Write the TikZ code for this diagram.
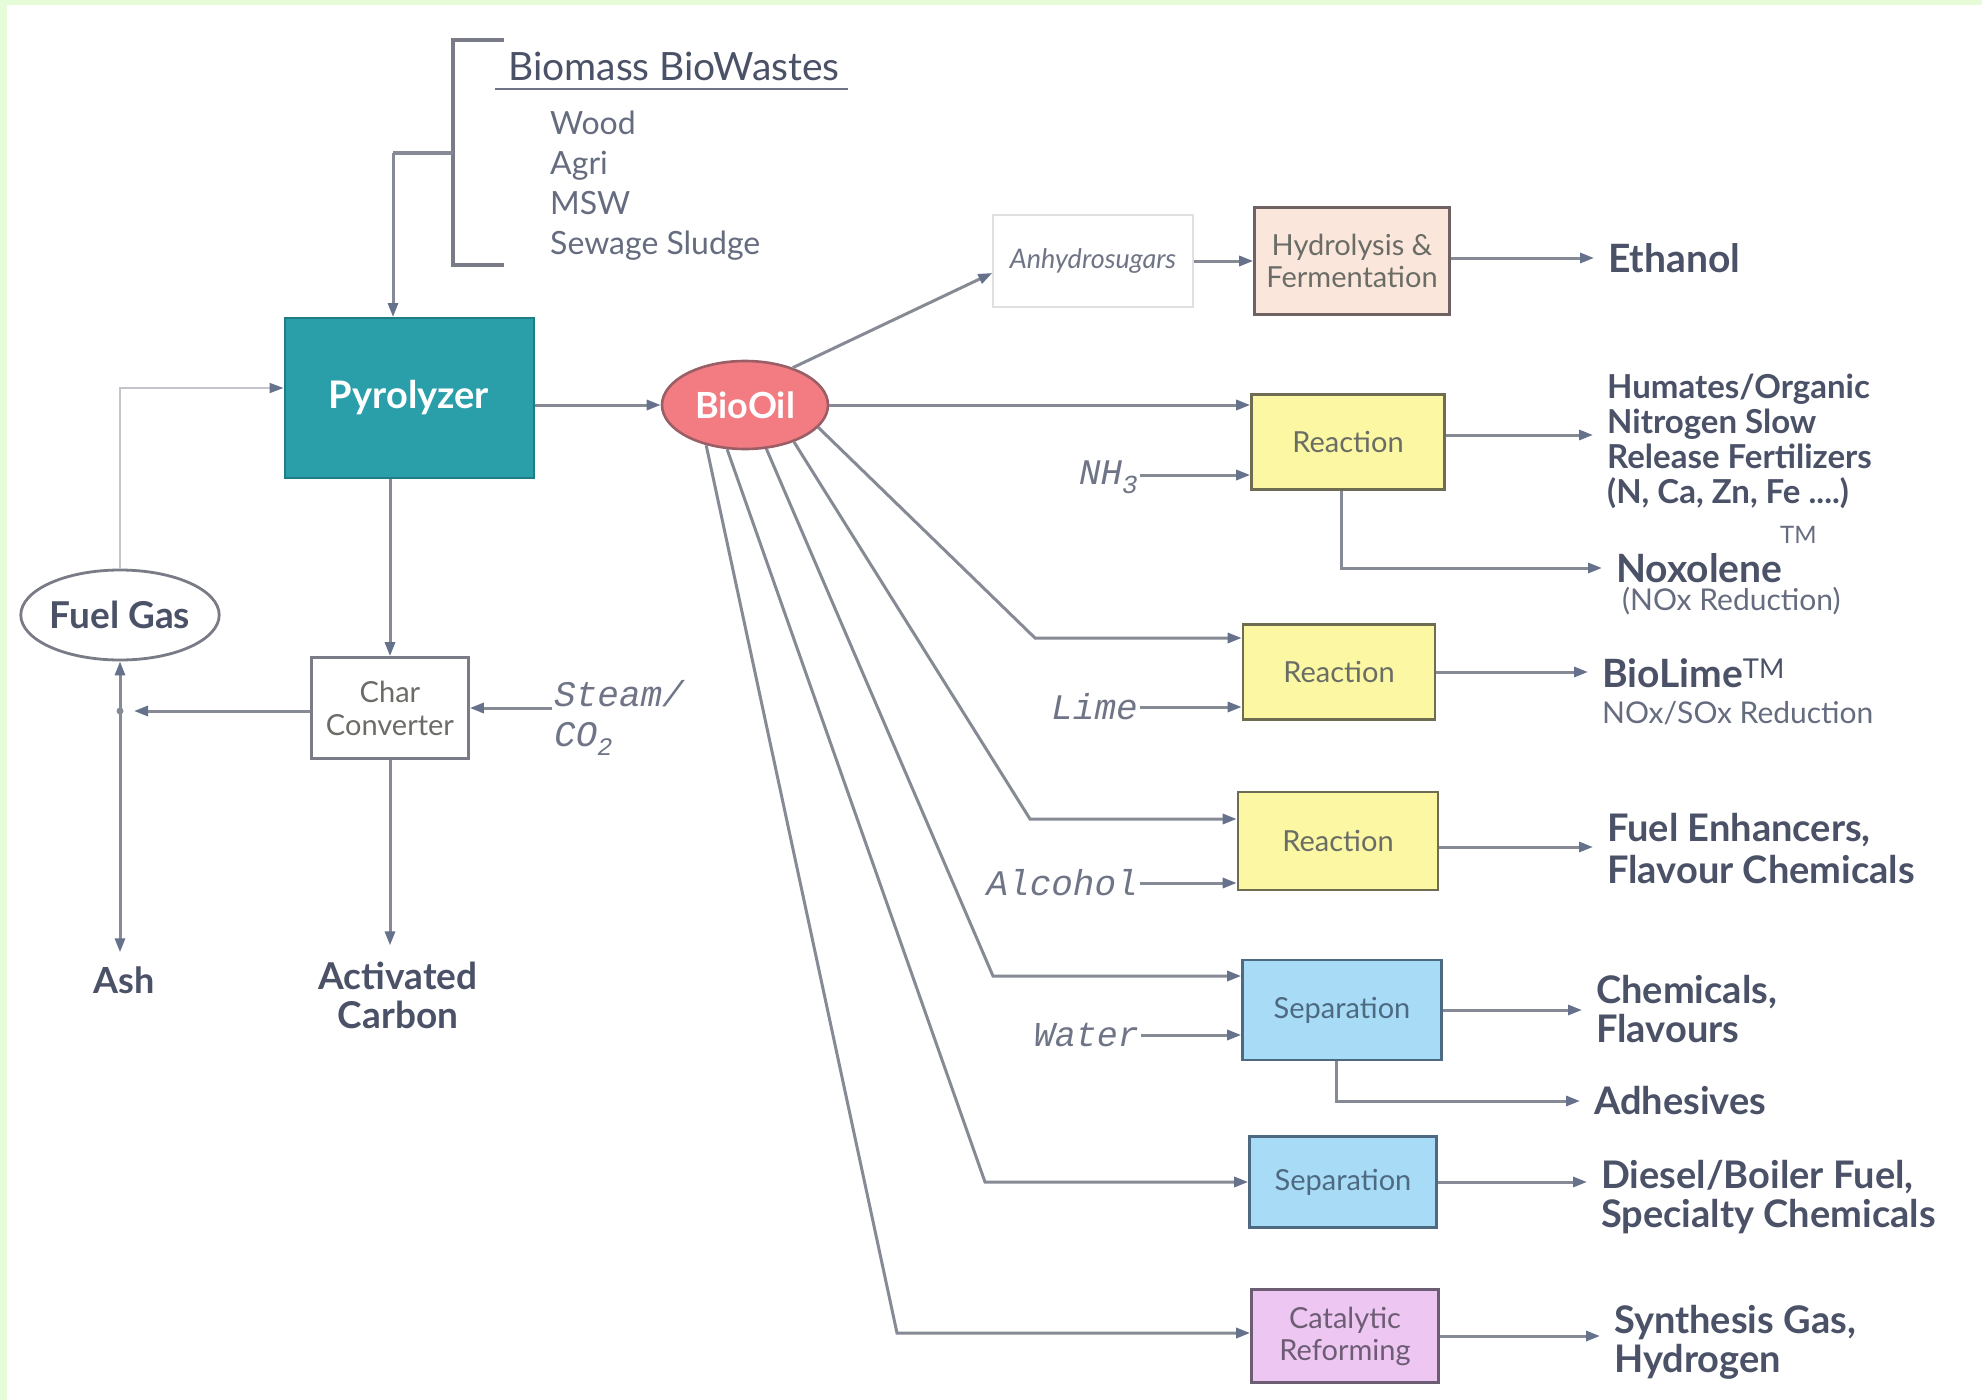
\documentclass[tikz,border=0pt]{standalone}
\usepackage{fontspec}
\setmainfont{Lato}
\newfontfamily\monoit{Liberation Mono}
\usetikzlibrary{shapes.geometric,arrows.meta,calc}
\definecolor{lnc}{HTML}{868A95}
\definecolor{tipc}{HTML}{66718C}
\definecolor{txt}{HTML}{4B5268}
\definecolor{bgg}{HTML}{E6FCD9}
\definecolor{pyrof}{HTML}{2A9FAA}
\definecolor{pyrob}{HTML}{1F7D88}
\definecolor{biof}{HTML}{F27C82}
\definecolor{biob}{HTML}{9A5F66}
\definecolor{yelf}{HTML}{FBF7A2}
\definecolor{yelb}{HTML}{6E6C52}
\definecolor{bluf}{HTML}{A8DCF6}
\definecolor{blub}{HTML}{4D6A82}
\definecolor{vilf}{HTML}{EEC6F2}
\definecolor{vilb}{HTML}{6D5D74}
\definecolor{pchf}{HTML}{FBE6DC}
\definecolor{pchb}{HTML}{6E6262}
\definecolor{boxtxt}{HTML}{6A6D66}
\newcommand\fsz[2]{\fontsize{#1pt}{#2pt}\selectfont}
\tikzset{
  ln/.style={draw=lnc, line width=3pt},
  arr/.style={ln, -{Triangle[length=14pt,width=10pt,color=tipc]}},
  thinarr/.style={draw=lnc!50, line width=1.8pt, -{Triangle[length=14pt,width=10pt,color=tipc]}},
  procbox/.style={draw=#1, line width=2.6pt, inner sep=1pt, align=center, font=\fsz{29}{32}},
  prod/.style={anchor=west, inner sep=2pt, text=txt, font=\fsz{38}{39}\bfseries, align=left},
  prodsm/.style={anchor=west, inner sep=2pt, text=txt!85, font=\fsz{30}{32}},
  inlab/.style={anchor=east, inner sep=2pt, text=txt!80, font=\fsz{36}{39}\monoit\itshape, align=left},
}
\begin{document}
\begin{tikzpicture}[x=1pt,y=-1pt]
\useasboundingbox (0,0) rectangle (1982,1400);
\fill[bgg] (0,0) rectangle (1982,1400);
\fill[white] (7,5) rectangle (1982,1400);

% Biomass bracket
\node[anchor=west, inner sep=0pt, text=txt, font=\fsz{39}{44}] (bm) at (508,66) {Biomass BioWastes};
\draw[draw=txt!80, line width=2.4pt] (495,89) -- (848,89);
\node[anchor=north west, inner sep=0pt, text=txt!85, font=\fsz{32}{40}, align=left] (feeds) at (550,111) {Wood\\Agri\\MSW\\Sewage Sludge};
\draw[draw=lnc!90!black, line width=3.4pt] (504,40) -- (453,40) -- (453,265) -- (504,265);
\coordinate (brk) at (453,153);
\coordinate (brk2) at (393,153);

% main nodes
\node[draw=pyrob, fill=pyrof, line width=2pt, minimum width=249pt, minimum height=160pt, text=white, font=\fsz{38}{44}\bfseries] (pyro) at (409,398) {Pyrolyzer};
\node[ellipse, draw=biob, fill=biof, line width=2.6pt, minimum width=166pt, minimum height=88pt, inner sep=0pt, text=white, font=\fsz{36}{40}\bfseries] (bio) at (745,405) {BioOil};
\node[ellipse, draw=lnc!90!black, fill=white, line width=2.8pt, minimum width=190pt, minimum height=90pt, inner sep=0pt, text=txt, font=\fsz{37}{40}\bfseries] (fuel) at (120,615) {Fuel Gas};
\node[procbox=lnc!90!black, minimum width=157pt, minimum height=101pt, text=boxtxt, font=\fsz{29}{33}] (char) at (390,708) {Char\\Converter};
\node[anchor=west, inner sep=2pt, text=txt!80, font=\fsz{36}{40}\monoit\itshape, align=left] (steam) at (552,718) {Steam/\\CO\textsubscript{2}};
\node[inner sep=2pt, text=txt, font=\fsz{36}{40}\bfseries] (ash) at (124,980) {Ash};
\node[inner sep=2pt, text=txt, font=\fsz{37}{39}\bfseries, align=center] (act) at (398,995) {Activated\\Carbon};
\coordinate (J) at (120,711);

% process boxes
\node[draw=black!12, line width=1.4pt, fill=white, minimum width=200pt, minimum height=92pt, inner sep=2pt, text=txt!80, font=\fsz{27}{30}\itshape] (anhy) at (1093,261) {Anhydrosugars};
\node[procbox=pchb, fill=pchf, minimum width=195pt, minimum height=107pt, text=boxtxt] (hydro) at (1352,261) {Hydrolysis \&\\Fermentation};
\node[procbox=yelb, fill=yelf, minimum width=193pt, minimum height=95pt, text=boxtxt] (r1) at (1348,442) {Reaction};
\node[procbox=yelb, fill=yelf, minimum width=192pt, minimum height=95pt, text=boxtxt] (r2) at (1339,672) {Reaction};
\node[procbox=yelb, fill=yelf, minimum width=200pt, minimum height=98pt, text=boxtxt] (r3) at (1338,841) {Reaction};
\node[procbox=blub, fill=bluf, minimum width=199pt, minimum height=100pt, text=blub] (s1) at (1342,1010) {Separation};
\node[procbox=blub, fill=bluf, minimum width=187pt, minimum height=91pt, text=blub] (s2) at (1343,1182) {Separation};
\node[procbox=vilb, fill=vilf, minimum width=187pt, minimum height=93pt, text=vilb] (cat) at (1345,1336) {Catalytic\\Reforming};

% input labels
\node[inlab] (nh3) at (1140,477) {NH\raisebox{-9pt}{\fsz{26}{28}3}};
\node[inlab] (lime) at (1140,707) {Lime};
\node[inlab] (alc) at (1140,883) {Alcohol};
\node[inlab, font=\fsz{35}{39}\monoit\itshape] (water) at (1141,1035) {Water};

% products
\node[prod, font=\fsz{39}{44}\bfseries] (eth) at (1606,258) {Ethanol};
\node[prod, font=\fsz{33}{35}\bfseries] (hum) at (1605,441) {Humates/Organic\\Nitrogen Slow\\Release Fertilizers\\(N, Ca, Zn, Fe ....)};
\node[prod, font=\fsz{39}{44}\bfseries] (nox) at (1614,568) {Noxolene};
\node[prodsm, font=\fsz{24}{26}] (tm1) at (1778,535) {TM};
\node[prodsm] (noxr) at (1620,601) {(NOx Reduction)};
\node[prod, font=\fsz{39}{44}\bfseries] (blime) at (1600,673) {BioLime\textsuperscript{\mdseries TM}};
\node[prodsm] (blimer) at (1600,713) {NOx/SOx Reduction};
\node[prod, font=\fsz{38}{42}\bfseries] (fenh) at (1605,849) {Fuel Enhancers,\\Flavour Chemicals};
\node[prod] (chem) at (1594,1009) {Chemicals,\\Flavours};
\node[prod] (adh) at (1592,1101) {Adhesives};
\node[prod] (dies) at (1599,1197) {Diesel/Boiler Fuel,\\Specialty Chemicals};
\node[prod] (syn) at (1612,1342) {Synthesis Gas,\\Hydrogen};

% connectors: left part
\draw[ln, line width=3.4pt] (brk) -- (brk2);
\draw[arr] (brk2) -- (brk2 |- pyro.north);
\draw[arr] (pyro.east |- bio.west) -- (bio.west);
\draw[arr] (char.north |- pyro.south) -- (char.north);
\draw[arr, shorten >=14pt] ([yshift=-3pt]char.west) -- (J);
\draw[arr] (J) -- (fuel.south);
\draw[arr, shorten >=12pt] (J) -- (J |- ash.north);
\fill[lnc] (J) circle (3.5pt);
\draw[thinarr] (fuel.north) |- ([yshift=10pt]pyro.west);
\draw[arr] (steam.west |- char.east) -- (char.east);
\draw[arr, shorten >=14pt] (char.south) -- (char.south |- act.north);

% BioOil fan
\draw[arr] (bio.38) -- ([yshift=-12pt]anhy.west);
\draw[arr] (anhy.east) -- (hydro.west);
\draw[arr, shorten >=12pt] (hydro.east |- eth.west) -- (eth.west);
\draw[arr] (bio.east) -- (bio.east -| r1.west);
\draw[arr] ([yshift=2pt]nh3.east) -- ([yshift=2pt]nh3.east -| r1.west);
\draw[arr, shorten >=12pt] ([yshift=7pt]r1.east) -- ([yshift=7pt]r1.east -| hum.west);
\draw[arr, shorten >=12pt] ([xshift=-7pt]r1.south) |- (nox.west);

\coordinate (k2) at (1035,638);
\coordinate (k3) at (1030,819);
\coordinate (k4) at (993,976);
\coordinate (k5) at (985,1182);
\coordinate (k6) at (897,1333);
\draw[arr] (bio.-17) -- (k2) -- (k2 -| r2.west);
\draw[arr] (bio.-37) -- (k3) -- (k3 -| r3.west);
\draw[arr] (bio.-64) -- (k4) -- (k4 -| s1.west);
\draw[arr] (bio.-112) -- (k5) -- (k5 -| s2.west);
\draw[arr] (bio.-134) -- (k6) -- (k6 -| cat.west);

\draw[arr] (lime.east) -- (lime.east -| r2.west);
\draw[arr] (alc.east) -- (alc.east -| r3.west);
\draw[arr] (water.east) -- (water.east -| s1.west);

\draw[arr, shorten >=12pt] (r2.east) -- (r2.east -| blime.west);
\draw[arr, shorten >=12pt] ([yshift=-6pt]r3.east) -- ([yshift=-6pt]r3.east -| fenh.west);
\draw[arr, shorten >=12pt] (s1.east) -- (s1.east -| chem.west);
\draw[arr, shorten >=12pt] ([xshift=-6pt]s1.south) |- (adh.west);
\draw[arr, shorten >=12pt] (s2.east) -- (s2.east -| dies.west);
\draw[arr, shorten >=12pt] (cat.east) -- (cat.east -| syn.west);
\end{tikzpicture}
\end{document}
